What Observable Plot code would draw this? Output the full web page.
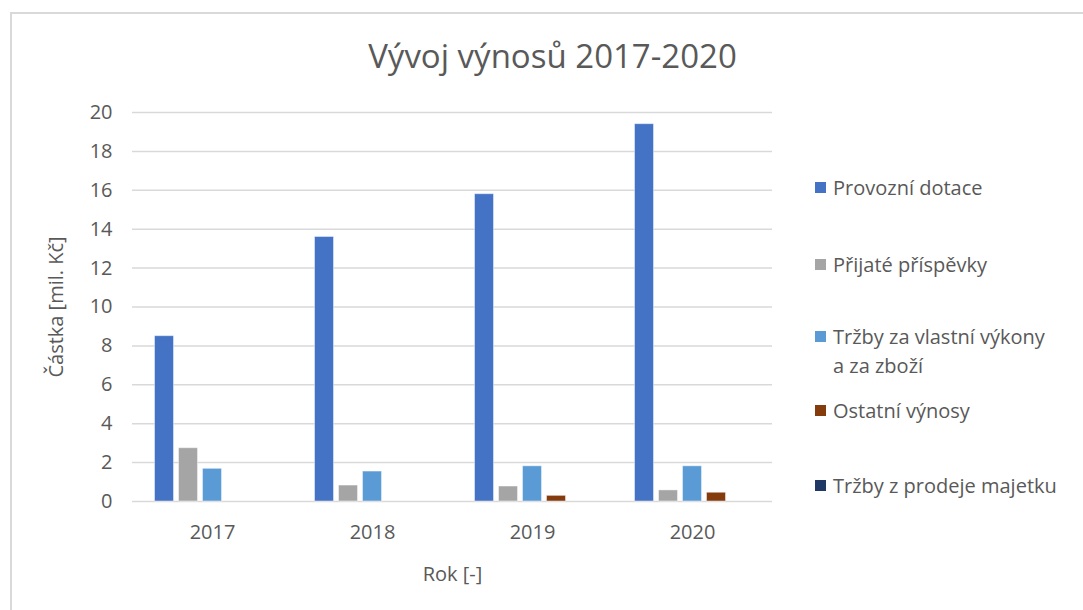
<!DOCTYPE html>
<html>
<head>
<meta charset="utf-8">
<script src="https://cdn.jsdelivr.net/npm/d3@7"></script>
<script src="https://cdn.jsdelivr.net/npm/@observablehq/plot@0.6"></script>
<style>
  html, body { margin: 0; padding: 0; background: #fff; }
  #wrap { position: relative; width: 1083px; height: 610px; overflow: hidden; font-family: "Open Sans", "Noto Sans", sans-serif; color: #595959; }
  #border { position: absolute; left: 10px; top: 12px; width: 1100px; height: 640px; border: 2px solid #d9d9d9; box-sizing: border-box; }
  #title { position: absolute; left: 0; width: 1105px; top: 33px; text-align: center; font-size: 33px; font-weight: 400; }
  .leg { position: absolute; left: 815px; font-size: 20px; line-height: 29px; }
  .sw { position: absolute; left: 0; top: 9px; width: 11px; height: 11px; }
  .lt { margin-left: 18px; white-space: nowrap; }
  #chart { position: absolute; left: 0; top: 0; }
</style>
</head>
<body>
<div id="wrap">
  <div id="border"></div>
  <div id="chart"></div>
  <div id="title"></div>
  <div id="legend"></div>
</div>
<script>
const years = ["2017", "2018", "2019", "2020"];
const series = ["Provozní dotace", "Přijaté příspěvky", "Tržby za vlastní výkony a za zboží", "Ostatní výnosy", "Tržby z prodeje majetku"];
const legendLabels = ["Provozní dotace", "Přijaté příspěvky", "Tržby za vlastní výkony<br>a za zboží", "Ostatní výnosy", "Tržby z prodeje majetku"];
const colors = ["#4472C4", "#A5A5A5", "#5B9BD5", "#843C0C", "#203864"];
const provozniDotace = [8.5, 13.6, 15.8, 19.4];
const prijatePrispevky = [2.74, 0.82, 0.77, 0.57];
const trzbyVykony = [1.68, 1.54, 1.81, 1.81];
const ostatniVynosy = [0, 0, 0.29, 0.45];
const trzbyMajetek = [0, 0, 0, 0];
const yTicks = [0, 2, 4, 6, 8, 10, 12, 14, 16, 18, 20];
const titleText = "Vývoj výnosů 2017-2020";
const yLabel = "Částka [mil. Kč]";
const xLabel = "Rok [-]";

const valuesBySeries = [provozniDotace, prijatePrispevky, trzbyVykony, ostatniVynosy, trzbyMajetek];
const data = [];
years.forEach((y, i) => series.forEach((s, j) => data.push({year: y, series: s, value: valuesBySeries[j][i]})));

const chart = Plot.plot({
  width: 1083,
  height: 610,
  marginLeft: 132,
  marginRight: 311,
  marginTop: 112,
  marginBottom: 109,
  style: {fontFamily: "'Open Sans', 'Noto Sans', sans-serif", fontSize: "20px", color: "#595959", background: "transparent", overflow: "visible"},
  fx: {domain: years, padding: 0},
  x: {domain: series, axis: null, paddingInner: 0.208, paddingOuter: 0.9375, round: false},
  y: {domain: [0, 20]},
  color: {domain: series, range: colors},
  marks: [
    Plot.gridY(yTicks, {stroke: "#d9d9d9", strokeOpacity: 1, strokeWidth: 1.5}),
    Plot.barY(data.filter(d => d.value > 0), {fx: "year", x: "series", y: "value", fill: "series", stroke: "#ffffff", strokeOpacity: 0.45, strokeWidth: 1}),
    Plot.axisY(yTicks, {tickSize: 0, tickPadding: 20, label: yLabel, labelAnchor: "center", labelOffset: 84, labelArrow: "none"}),
    Plot.axisFx({anchor: "bottom", tickSize: 0, tickPadding: 23, label: xLabel, labelAnchor: "center", labelOffset: 79, labelArrow: "none"})
  ]
});
document.getElementById("chart").appendChild(chart);
document.getElementById("title").textContent = titleText;

const legendTops = [173, 250, 322, 396, 471];
const lg = document.getElementById("legend");
legendLabels.forEach((l, i) => {
  const d = document.createElement("div");
  d.className = "leg";
  d.style.top = legendTops[i] + "px";
  d.innerHTML = `<div class="sw" style="background:${colors[i]}"></div><div class="lt">${l}</div>`;
  lg.appendChild(d);
});
</script>
</body>
</html>
